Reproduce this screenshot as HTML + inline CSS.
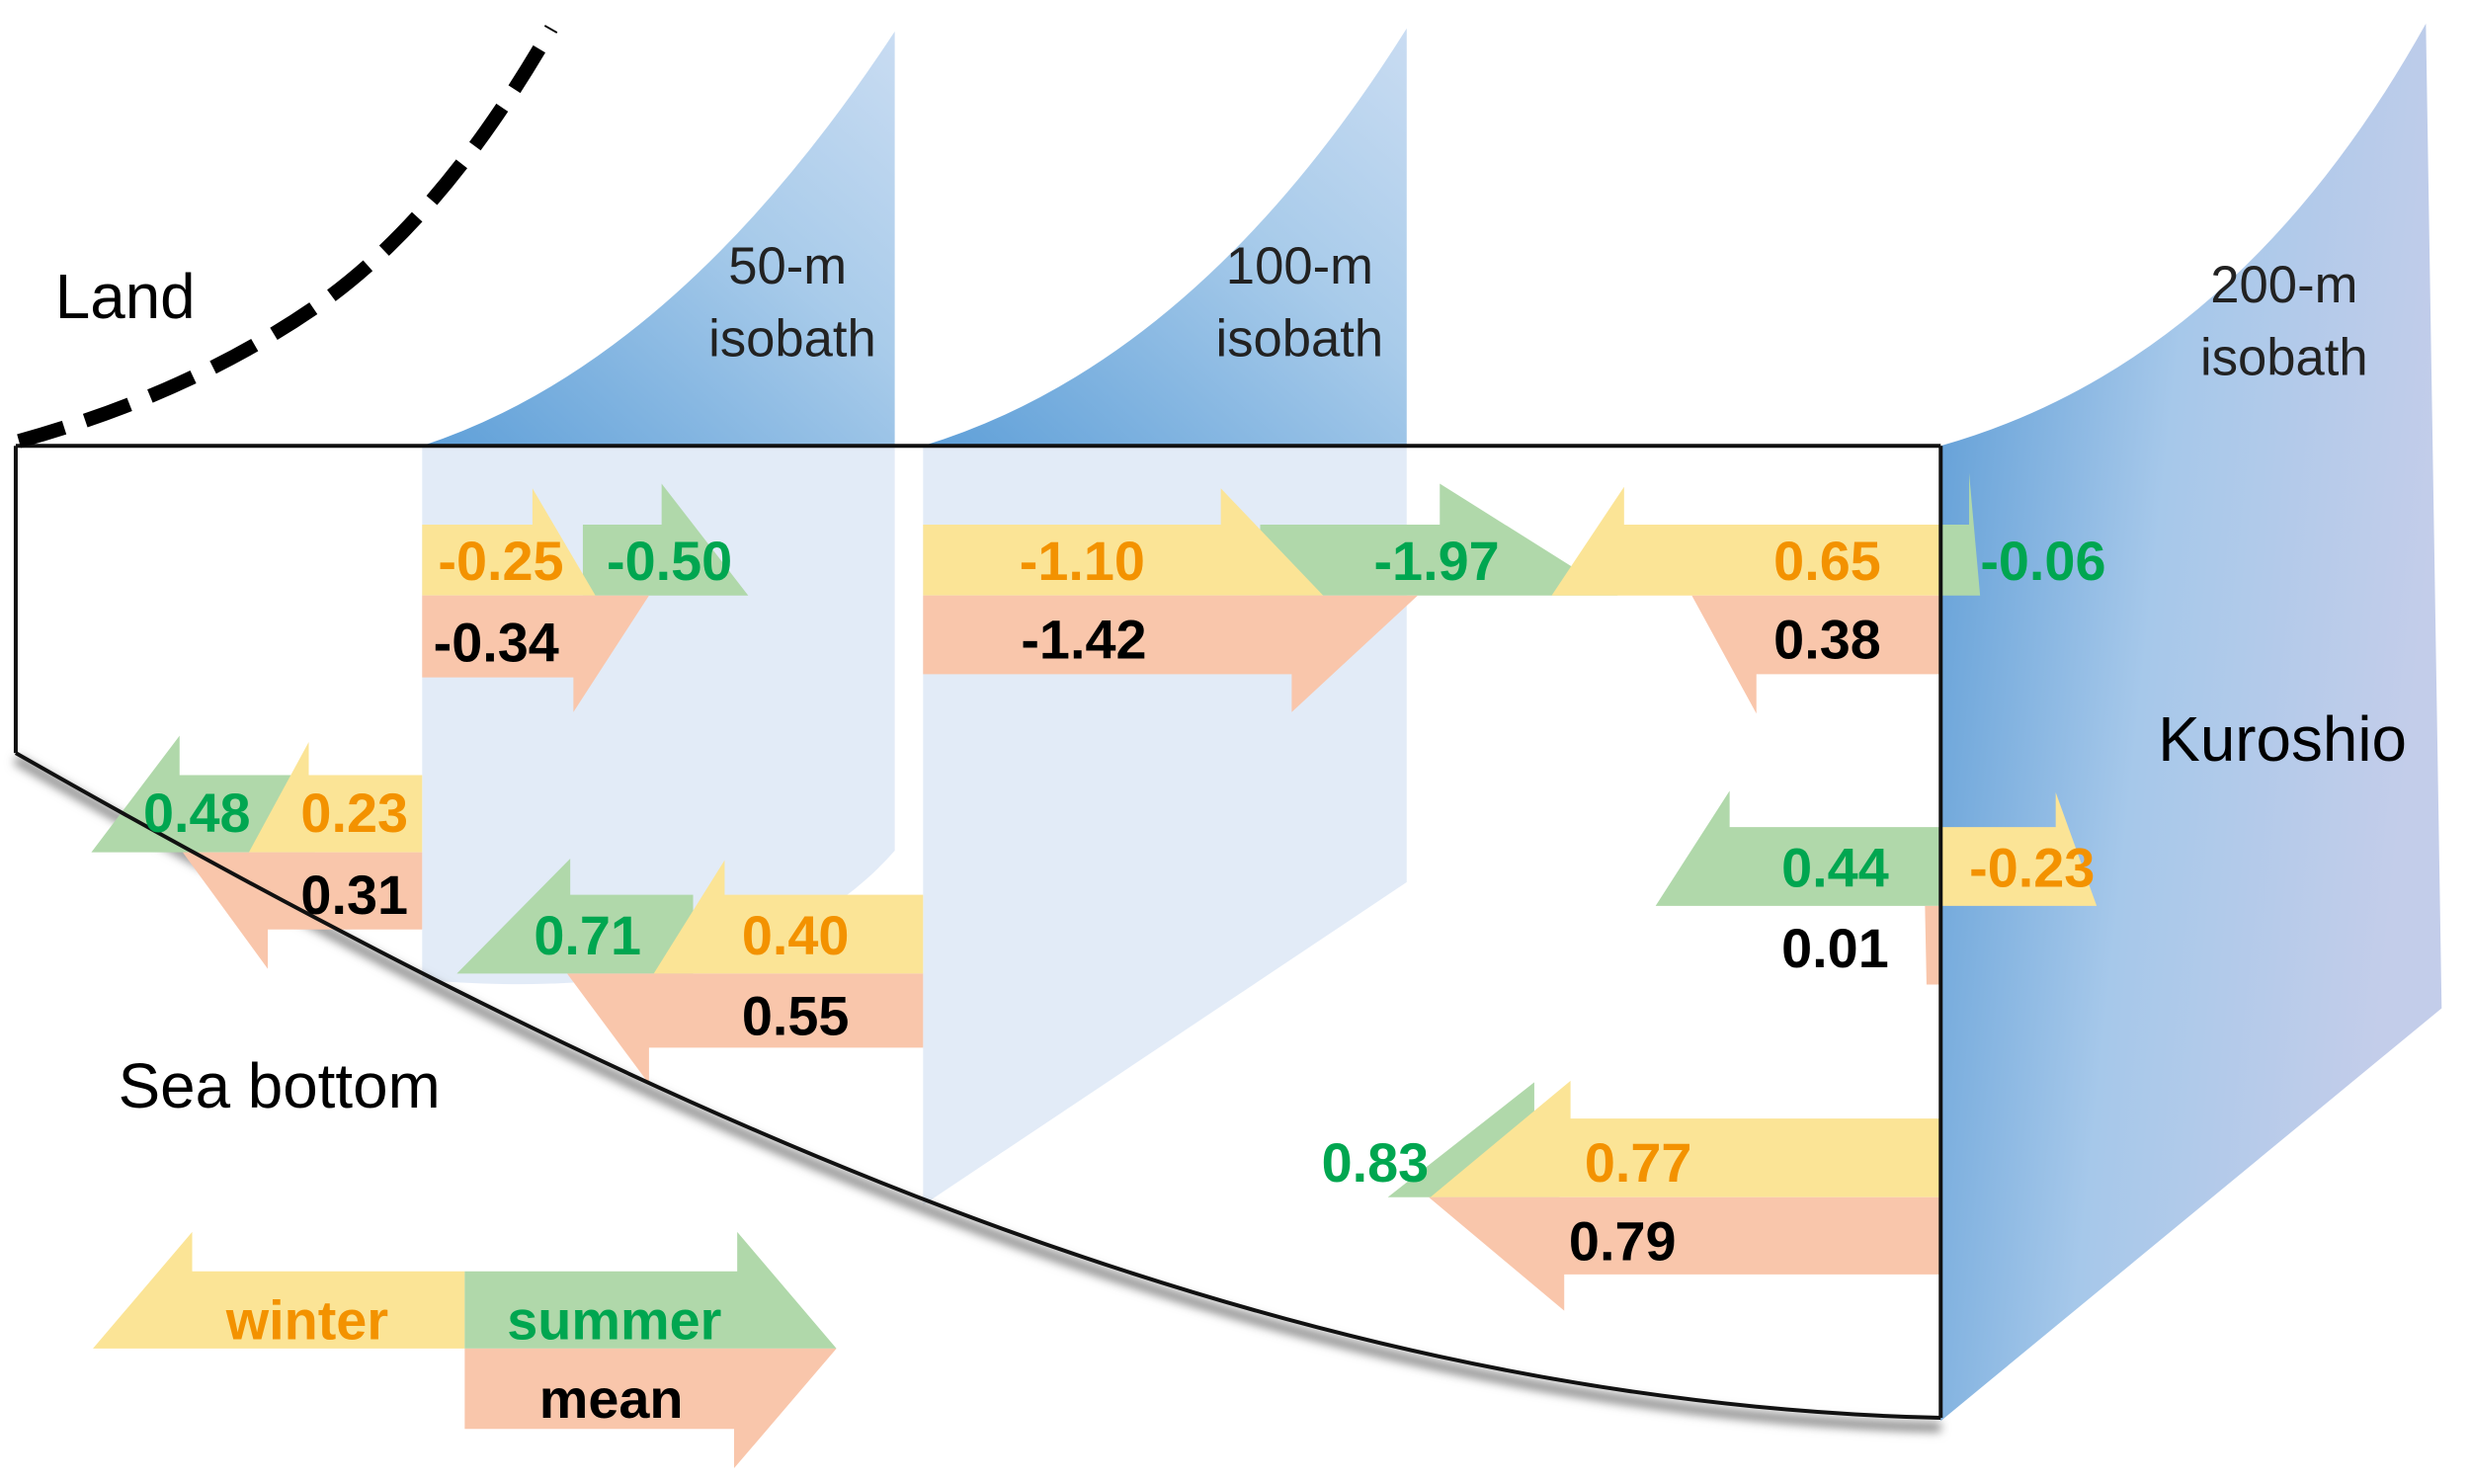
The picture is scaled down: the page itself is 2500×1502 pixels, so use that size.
<!DOCTYPE html>
<html><head><meta charset="utf-8">
<style>
html,body{margin:0;padding:0;background:#fff;}
svg{display:block;}
text{font-family:"Liberation Sans",sans-serif;}
.v{font-weight:bold;font-size:35px;text-anchor:middle;}
.lbl{font-size:40px;fill:#000;}
.iso{font-size:33px;fill:#222;text-anchor:middle;}
</style></head>
<body>
<svg id="fig" width="2500" height="1502" viewBox="0 0 1568 942" preserveAspectRatio="none" xmlns="http://www.w3.org/2000/svg">
<defs>
<linearGradient id="gTop" x1="0" y1="1" x2="1" y2="0">
<stop offset="0" stop-color="#5e9fd8"/><stop offset="0.6" stop-color="#a8cbea"/><stop offset="1" stop-color="#c9dcf2"/>
</linearGradient>
<linearGradient id="gKuro" x1="0" y1="0" x2="1" y2="0.3">
<stop offset="0" stop-color="#5b9bd5"/><stop offset="0.5" stop-color="#a6c8ea"/><stop offset="1" stop-color="#c3cdea"/>
</linearGradient>
<filter id="blur"><feGaussianBlur stdDeviation="3"/></filter>
</defs>
<g>
<path d="M268,283 Q430,230 568,20 L568,283 Z" fill="url(#gTop)"/>
<path d="M268,283 L568,283 L568,540 Q480,640 268,622 Z" fill="#dde8f6" opacity="0.85"/>
</g>
<g>
<path d="M586,283 Q760,230 893,18 L893,283 Z" fill="url(#gTop)"/>
<path d="M586,283 L893,283 L893,560 L586,765 Z" fill="#dde8f6" opacity="0.85"/>
</g>
<path d="M1232,283 Q1420,230 1540,15 L1550,640 L1232,902 Z" fill="url(#gKuro)"/>
<path d="M10,482 C400,706 800,896 1232,906" fill="none" stroke="#888" stroke-width="6" filter="url(#blur)"/>
<g id="arrows"></g>
<g fill="none" stroke="#111" stroke-width="2.5">
<line x1="10" y1="283" x2="1232" y2="283"/>
<line x1="10" y1="283" x2="10" y2="478"/>
<path d="M10,478 C400,700 800,890 1232,900"/>
<line x1="1232" y1="283" x2="1232" y2="900"/>
</g>
<path d="M12,280 Q120,250 200,195 Q280,140 350,18" fill="none" stroke="#000" stroke-width="9" stroke-dasharray="30,14"/>
<text class="lbl" x="35" y="202">Land</text>
<text class="lbl" x="75" y="703">Sea bottom</text>
<text class="lbl" x="1370" y="483">Kuroshio</text>
<text class="iso" x="500" y="180">50-m</text>
<text class="iso" x="503" y="226">isobath</text>
<text class="iso" x="825" y="180">100-m</text>
<text class="iso" x="825" y="226">isobath</text>
<text class="iso" x="1450" y="192">200-m</text>
<text class="iso" x="1450" y="238">isobath</text>
<g id="labels"></g>
</svg>
<script>
// arrow geometry: [season, part, tail, headBase, tip, centerY, bodyEdgeY, headEdgeY]
const seasons = ["summer","winter","mean"];
const colors = {summer:"#b0d8aa", winter:"#fbe496", mean:"#f9c6ab"};
const textColors = {summer:"#00a650", winter:"#f39200", mean:"#000"};
const arrowParts = [
["summer","top",370,420,475,378,333,307],["winter","top",268,338,378,378,333,310],["mean","bot",268,364,412,378,430,452],
["summer","top",800,914,1027,378,333,307],["winter","top",586,775,840,378,333,310],["mean","bot",586,820,900,378,428,452],
["winter","top",1232,1031,985,378,333,309],["summer","top",1232,1250,1257,378,333,300],["mean","bot",1232,1115,1074,378,428,453],
["summer","top",1232,1098,1051,575,525,502],["winter","top",1232,1305,1331,575,525,503],["mean","bot",1232,1223,1222,575,625,625],
["summer","top",990,974,881,760,710,687],["winter","top",1232,997,908,760,710,686],["mean","bot",1232,993,907,760,809,832],
["summer","top",440,362,290,618,568,545],["winter","top",586,460,415,618,568,546],["mean","bot",586,412,360,618,665,688],
["summer","top",200,114,58,541,492,467],["winter","top",268,196,158,541,492,471],["mean","bot",268,170,116,541,590,615],
["winter","top",295,122,59,856,807,782],["summer","top",295,468,531,856,807,782],["mean","bot",295,466,531,856,907,932]
];
const labelText = ["-0.25","-0.50","-0.34","-1.10","-1.97","-1.42","0.65","-0.06","0.38","0.44","-0.23","0.01","0.83","0.77","0.79","0.71","0.40","0.55","0.48","0.23","0.31","winter","summer","mean"];
const labelSeason = ["winter","summer","mean","winter","summer","mean","winter","summer","mean","summer","winter","mean","summer","winter","mean","summer","winter","mean","summer","winter","mean","winter","summer","mean"];
const labelX = [318,425,315,687,912,688,1160,1297,1160,1165,1290,1165,873,1040,1030,373,505,505,125,225,225,195,390,388];
const labelY = [368,368,420,368,368,418,368,368,418,563,563,614,750,750,800,606,606,657,528,528,580,850,850,900];
const NS="http://www.w3.org/2000/svg";
const ag=document.getElementById("arrows");
arrowParts.forEach(function(a,i){
  const s=a[0],part=a[1],tail=a[2],hb=a[3],tip=a[4],yc=a[5],be=a[6],he=a[7];
  let pts;
  if(part==="top") pts=[[tail,be],[hb,be],[hb,he],[tip,yc],[tail,yc]];
  else pts=[[tail,yc],[tip,yc],[hb,he],[hb,be],[tail,be]];
  const p=document.createElementNS(NS,"polygon");
  p.setAttribute("points",pts.map(q=>q.join(",")).join(" "));
  p.setAttribute("fill",colors[s]);
  
  
  ag.appendChild(p);
});
const lg=document.getElementById("labels");
labelText.forEach(function(t,i){
  const e=document.createElementNS(NS,"text");
  e.setAttribute("class","v");
  e.setAttribute("x",labelX[i]);
  e.setAttribute("y",labelY[i]);
  e.setAttribute("fill",textColors[labelSeason[i]]);
  e.textContent=t;
  
  
  lg.appendChild(e);
});
</script>
</body></html>
